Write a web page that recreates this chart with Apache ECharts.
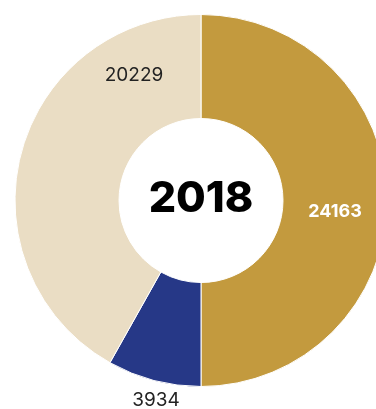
<!DOCTYPE html>
<html>
<head>
<meta charset="utf-8">
<script src="https://cdn.jsdelivr.net/npm/echarts@6/dist/echarts.min.js"></script>
<style>
  html, body { margin: 0; padding: 0; background: #ffffff; }
  #chart { width: 376px; height: 409px; }
</style>
</head>
<body>
<div id="chart"></div>
<script>
// Segment names, values and colours, clockwise from 12 o'clock
const categories = ['A', 'B', 'C'];
const values = [24163, 3934, 20229];
const colors = ['#C39A3E', '#263887', '#EADDC4'];
const centerTitle = '2018';

const chart = echarts.init(document.getElementById('chart'));

// Label anchor points (pixels) and styles per segment
const labelPos = [[335, 212], [156, 400], [134, 75]];
const labelStyle = [
  { color: '#ffffff', fontWeight: 'bold', fontSize: 18 },
  { color: '#222222', fontWeight: 'normal', fontSize: 19 },
  { color: '#222222', fontWeight: 'normal', fontSize: 19 }
];

const data = categories.map((name, i) => ({
  name: name,
  value: values[i],
  itemStyle: { color: colors[i] },
  label: Object.assign({ show: true, fontFamily: 'Inter' }, labelStyle[i])
}));

chart.setOption({
  animation: false,
  series: [{
    type: 'pie',
    center: [201, 200.5],
    radius: [82, 186],
    startAngle: 90,
    clockwise: true,
    avoidLabelOverlap: false,
    itemStyle: { borderColor: '#ffffff', borderWidth: 1 },
    label: { position: 'inside', formatter: '{c}' },
    labelLine: { show: false },
    labelLayout: function (p) {
      const pos = labelPos[p.dataIndex];
      return { x: pos[0], y: pos[1], align: 'center', verticalAlign: 'middle' };
    },
    emphasis: { disabled: true },
    data: data
  }],
  graphic: [{
    type: 'text',
    x: 201,
    y: 199,
    z: 100,
    style: {
      text: centerTitle,
      fill: '#000000',
      font: '800 43px Inter',
      align: 'center',
      verticalAlign: 'middle'
    }
  }]
});
</script>
</body>
</html>
